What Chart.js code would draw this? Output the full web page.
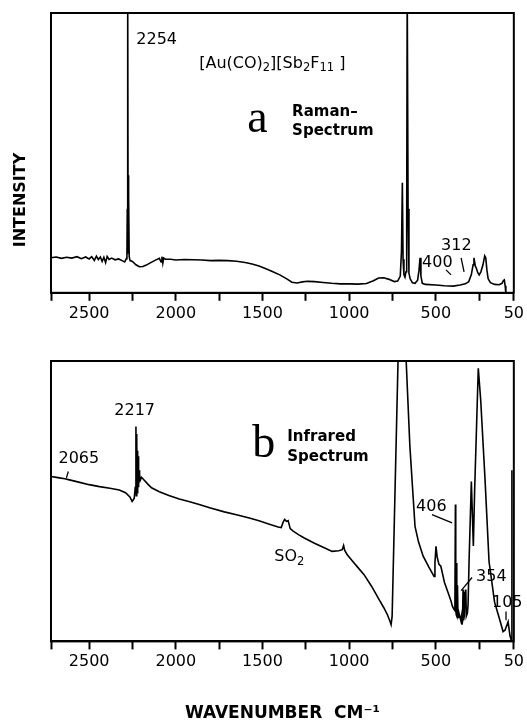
<!DOCTYPE html>
<html>
<head>
<meta charset="utf-8">
<script src="https://cdn.jsdelivr.net/npm/chart.js@4.4.1/dist/chart.umd.min.js"></script>
<style>
  body{margin:0;background:#fff;}
  canvas{position:absolute;left:0;}
  #raman{top:0;}
  #ir{top:330px;}
</style>
</head>
<body>
<canvas id="raman" width="527" height="330"></canvas>
<canvas id="ir" width="527" height="394"></canvas>
<script>
// wavenumber axis (cm-1), same for both panels
const xTickValues = [2720, 2500, 2250, 2000, 1750, 1500, 1250, 1000, 750, 500, 250, 50];
const xTickLabels = ['', '2500', '', '2000', '', '1500', '', '1000', '', '500', '', '50'];

// a: Raman spectrum (arbitrary intensity, 0-100 = frame height)
const ramanWavenumber = [2720,2690,2660,2630,2600,2570,2545,2520,2500,2485,2470,2458,2447,2435,2425,2415,2405,2396,2385,2370,2350,2330,2310,2295,2285,
  2282,2280,2279,2278,2277,2276,2275,2274,2272,2271,2269,2264,2250,2230,2210,2190,2170,2150,2120,2095,2085,2080,2075,2070,2060,2030,2000,1950,1900,1850,1800,1750,1700,1650,
  1600,1560,1520,1480,1440,1400,1360,1330,1300,1270,1240,1200,1150,1100,1050,1000,950,900,860,830,800,770,740,720,705,698,693,689,684,678,672,668,665,660,
  655,648,635,620,605,597,591,586,578,560,500,450,400,360,330,310,295,285,280,272,265,258,250,240,228,218,212,205,198,185,160,135,118,110,105,100,96];
const ramanIntensity = [12.5,12.8,12.3,12.7,12.4,12.9,12.2,12.8,12.1,12.9,11.6,13.1,11.9,12.8,11.2,12.7,10.8,13.0,11.9,12.4,11.8,12.1,11.5,11.0,12.2,
  13,30,14,45,14,110,16,42,14,35,13,11.5,11.2,10.0,9.3,9.4,9.9,10.6,11.6,12.3,11.0,12.9,10.6,12.4,12.0,12.0,11.7,11.9,11.8,11.7,11.5,11.6,11.5,11.3,
  10.8,10.3,9.6,8.6,7.5,6.4,5.0,3.8,3.5,3.9,4.1,4.0,3.7,3.4,3.2,3.2,3.1,3.3,4.3,5.3,5.4,4.8,4.0,4.2,6.0,15,39.3,12,6.5,5.6,7.5,25,110,30,
  7,5.0,3.6,3.4,4.5,8,12.5,6,3.4,3.0,2.8,2.5,2.4,2.8,3.2,4.0,6.5,10,12.5,9.5,8.6,7.2,6.4,7.5,10,13.2,12.5,8,5.0,3.6,3.0,2.9,3.4,4.4,4.6,2.5,0];

// b: infrared spectrum (log(I0/I), 0-100 = frame height)
const irWavenumber = [2720,2680,2640,2614,2560,2500,2440,2380,2326,2290,2265,2252,2240,2234,2230,2228,2227,2225,2224,2222,2221,2219,2218,2216,2215,2213,2212,2210,2208,2205,2198,2192,2182,
  2160,2140,2095,2040,1980,1920,1865,1800,1720,1650,1576,1520,1460,1410,1392,1380,1372,1362,1352,1340,1323,1290,1259,1200,1150,1098,1060,1040,1032,1026,
  1012,980,950,914,870,827,800,780,765,758,752,718,695,671,650,631,620,600,573,540,510,505,499,492,482,471,450,430,412,404,396,390,387,385,382,380,378,
  375,372,368,362,356,352,349,346,343,340,336,331,327,324,318,314,308,295,283.5,276,255,241,216,193,161,135,112,101,83,72,63,61];
const irAbsorbance = [58.8,58.4,58.0,57.6,56.8,55.9,55.2,54.6,54.0,53.0,51.5,49.9,51,55,76.6,52,74,52,71,53,68,54,66,55,63,56,61,57,59.5,57.5,58.5,58.2,57.5,
  56,54.8,53.4,52.0,50.8,49.8,48.8,47.6,46.2,45.2,44.0,43.0,41.8,40.8,40.6,42.6,43.5,42.8,43.1,40.2,39.3,38.0,36.9,35.0,33.6,32.1,32.3,32.7,34.2,32.5,
  31,28.6,26.4,23.8,19.6,14.9,12.0,9.6,7.3,6.0,9,100,165,100,70,51.7,41,35.5,30.4,26.5,23.2,28,33.9,30,27.5,26.8,21,17.5,14.3,12.5,11.5,11,48.8,11,9.5,28,9,
  20,8.5,10.5,9,7.5,9,6,7,18.5,7.5,9,17.4,18.5,9,10,13,29,57,34,54,97.4,86,57.7,28.5,14,8.5,3.5,4,7,2,0,61];

const FONT = '"DejaVu Sans"';

function pts(xs, ys){ return xs.map((w,i)=>({x:w, y:ys[i]})) }

function partsWidth(ctx, it){
  let w = 0;
  it.parts.forEach(p=>{
    const s = p[1] ? it.size*0.72 : it.size;
    ctx.font = `${it.weight||'normal'} ${s}px ${it.family||FONT}`;
    w += ctx.measureText(p[0]).width;
  });
  return w;
}

function drawParts(ctx, it, x, y){
  let cx = x;
  it.parts.forEach(p=>{
    const s = p[1] ? it.size*0.72 : it.size;
    ctx.font = `${it.weight||'normal'} ${s}px ${it.family||FONT}`;
    ctx.fillText(p[0], cx, y + (p[1] ? it.size*0.32 : 0));
    cx += ctx.measureText(p[0]).width;
  });
}

// labels, leader strokes and the box round the plot
const notesPlugin = {
  id: 'notes',
  afterDraw(chart, args, opts){
    const {ctx, chartArea:a, scales:{x, y}} = chart;
    ctx.save();
    ctx.strokeStyle = '#000';
    ctx.lineWidth = 2;
    ctx.strokeRect(a.left, a.top, a.right - a.left, a.bottom - a.top);
    ctx.fillStyle = '#000';
    ctx.lineWidth = 1.3;
    (opts.lines||[]).forEach(l=>{
      ctx.beginPath();
      ctx.moveTo(x.getPixelForValue(l[0]), y.getPixelForValue(l[1]));
      ctx.lineTo(x.getPixelForValue(l[2]), y.getPixelForValue(l[3]));
      ctx.stroke();
    });
    (opts.items||[]).forEach(it=>{
      if(!it.parts) it.parts = [[it.text]];
      ctx.textAlign = 'left';
      ctx.textBaseline = it.base || 'middle';
      if(it.rot){
        const w = partsWidth(ctx, it);
        ctx.save();
        ctx.translate(it.px, it.py);
        ctx.rotate(-Math.PI/2);
        drawParts(ctx, it, -w/2, 0);
        ctx.restore();
      }else{
        drawParts(ctx, it, x.getPixelForValue(it.x), y.getPixelForValue(it.y));
      }
    });
    ctx.restore();
  }
};

function xAxis(title){
  const ax = {
    type:'linear', reverse:true, min:50, max:2720,
    afterBuildTicks: s => { s.ticks = xTickValues.map(v=>({value:v})) },
    ticks:{ autoSkip:false, maxRotation:0, padding:3, color:'#000',
      font:{family:FONT, size:16},
      callback: v => xTickLabels[xTickValues.indexOf(v)] },
    grid:{ drawOnChartArea:false, drawTicks:true, tickLength:8, tickWidth:2, tickColor:'#000' },
    border:{ display:true, color:'#000', width:2 }
  };
  if(title){
    ax.title = { display:true, text:title, color:'#000',
      font:{family:FONT, size:17, weight:'bold'}, padding:{top:29, bottom:0} };
  }
  return ax;
}

function mkChart(id, xs, ys, pad, title, notes){
  return new Chart(document.getElementById(id), {
    type:'line',
    data:{ datasets:[{ data: pts(xs, ys), borderColor:'#000', borderWidth:1.6,
      pointRadius:0, tension:0, fill:false }] },
    options:{
      responsive:false, devicePixelRatio:1, animation:false,
      layout:{ padding: pad },
      plugins:{ legend:{display:false}, tooltip:{enabled:false}, notes },
      scales:{
        x: xAxis(title),
        y: { display:false, min:0, max:100 }
      }
    },
    plugins:[notesPlugin]
  });
}

mkChart('raman', ramanWavenumber, ramanIntensity, {left:51, top:13, right:11, bottom:4}, null, {
  items:[
    {text:'2254', x:2228, y:90.4, size:16},
    {parts:[['[Au(CO)'],['2',1],['][Sb'],['2',1],['F'],['11',1],[' ]']], x:1865, y:82, size:16},
    {text:'a', x:1588, y:57.5, size:46, family:'"Liberation Serif"', base:'alphabetic'},
    {text:'Raman\u2013', x:1329, y:64.6, size:15, weight:'bold'},
    {text:'Spectrum', x:1329, y:57.9, size:15, weight:'bold'},
    {text:'312', x:470, y:16.8, size:16},
    {text:'400', x:579, y:10.7, size:16},
    {text:'INTENSITY', px:21, py:200, size:16, weight:'bold', rot:true}
  ],
  lines:[[354,12.5,337,7.5],[441,8.2,412,6.4]]
});

mkChart('ir', irWavenumber, irAbsorbance, {left:51, top:31, right:11, bottom:0}, 'WAVENUMBER  CM\u207B\u00B9', {
  items:[
    {text:'2217', x:2355, y:82.2, size:16},
    {text:'2065', x:2677, y:65.1, size:16},
    {text:'b', x:1559, y:65.8, size:46, family:'"Liberation Serif"', base:'alphabetic'},
    {text:'Infrared', x:1357, y:73, size:15, weight:'bold'},
    {text:'Spectrum', x:1357, y:65.8, size:15, weight:'bold'},
    {parts:[['SO'],['2',1]], x:1432, y:30.2, size:16},
    {text:'406', x:614, y:48, size:16},
    {text:'354', x:268, y:23.1, size:16},
    {text:'105', x:176, y:13.9, size:16},
    {parts:[['LOG(I'],['O',1],['/I)']], px:25, py:500, size:16, rot:true}
  ],
  lines:[[2620,60.6,2631,58.3],[522,45.2,406,42.3],[291,22.8,354,18.1],[95,10.7,95,7.5]]
});
</script>
</body>
</html>
